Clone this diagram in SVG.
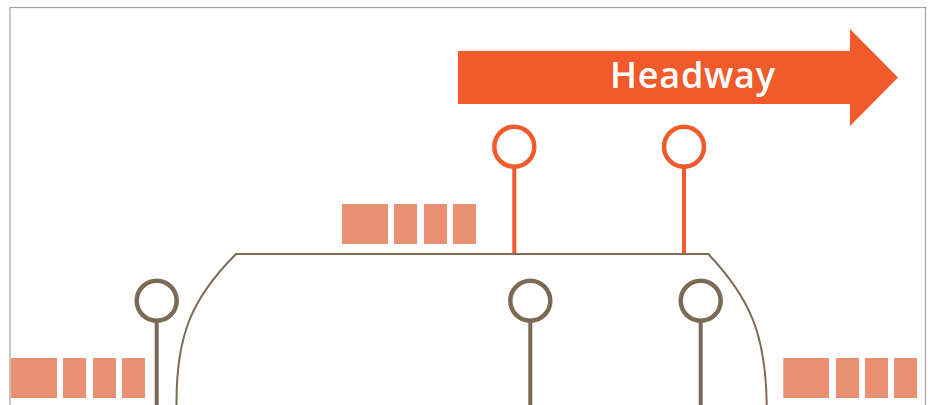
<svg xmlns="http://www.w3.org/2000/svg" width="933" height="405" viewBox="0 0 933 405">
  <style>
    .frame { fill: #ffffff; stroke: #a3a3a3; stroke-width: 1.2; }
    .car { fill: none; stroke: #7d6a55; stroke-width: 2; }
    .pax { fill: #e98f72; }
    .stop-o circle { fill: #ffffff; stroke: #f15a2b; stroke-width: 4.5; }
    .stop-o line { stroke: #f15a2b; stroke-width: 4; }
    .stop-b circle { fill: #ffffff; stroke: #7d6a55; stroke-width: 4.5; }
    .stop-b line { stroke: #7d6a55; stroke-width: 4; }
    .label { font-family: "Open Sans", "Liberation Sans", sans-serif; font-size: 36px; font-weight: 600; fill: #ffffff; }
  </style>
  <rect class="frame" x="10" y="7.5" width="915.5" height="420"/>

  <g id="headway-arrow">
    <polygon points="458,51 850,51 850,29 898,77.5 850,126 850,104 458,104" fill="#f15a2b"/>
    <text class="label" x="610" y="88" textLength="165" lengthAdjust="spacing">Headway</text>
  </g>

  <g id="vehicle">
    <path class="car" d="M176.5,405 C176,335 192,298 236,254 L708.3,254 C750,298 766,335 766.7,405"/>
  </g>

  <g id="queue-top">
    <rect class="pax" x="342" y="204" width="46" height="40"/>
    <rect class="pax" x="394" y="204" width="23" height="40"/>
    <rect class="pax" x="424" y="204" width="23" height="40"/>
    <rect class="pax" x="453" y="204" width="23" height="40"/>
  </g>

  <g id="queue-left">
    <rect class="pax" x="10.7" y="358" width="46.3" height="40"/>
    <rect class="pax" x="63" y="358" width="23" height="40"/>
    <rect class="pax" x="93" y="358" width="23" height="40"/>
    <rect class="pax" x="122" y="358" width="23" height="40"/>
  </g>

  <g id="queue-right">
    <rect class="pax" x="783.3" y="358" width="45.7" height="40"/>
    <rect class="pax" x="836" y="358" width="23" height="40"/>
    <rect class="pax" x="865" y="358" width="23" height="40"/>
    <rect class="pax" x="894" y="358" width="23" height="40"/>
  </g>

  <g id="connectors">
    <g class="stop-o">
      <line x1="514.3" y1="167" x2="514.3" y2="253"/>
      <line x1="684" y1="167" x2="684" y2="253"/>
    </g>
    <g class="stop-b">
      <line x1="156.7" y1="321" x2="156.7" y2="405"/>
      <line x1="530.3" y1="321" x2="530.3" y2="405"/>
      <line x1="700.7" y1="321" x2="700.7" y2="405"/>
    </g>
  </g>

  <g id="stop-orange-1" class="stop-o"><circle cx="514.3" cy="146.7" r="20"/></g>
  <g id="stop-orange-2" class="stop-o"><circle cx="684" cy="146.7" r="20"/></g>
  <g id="stop-brown-1" class="stop-b"><circle cx="156.7" cy="300.7" r="20"/></g>
  <g id="stop-brown-2" class="stop-b"><circle cx="530.3" cy="300.7" r="20"/></g>
  <g id="stop-brown-3" class="stop-b"><circle cx="700.7" cy="300.7" r="20"/></g>
</svg>
